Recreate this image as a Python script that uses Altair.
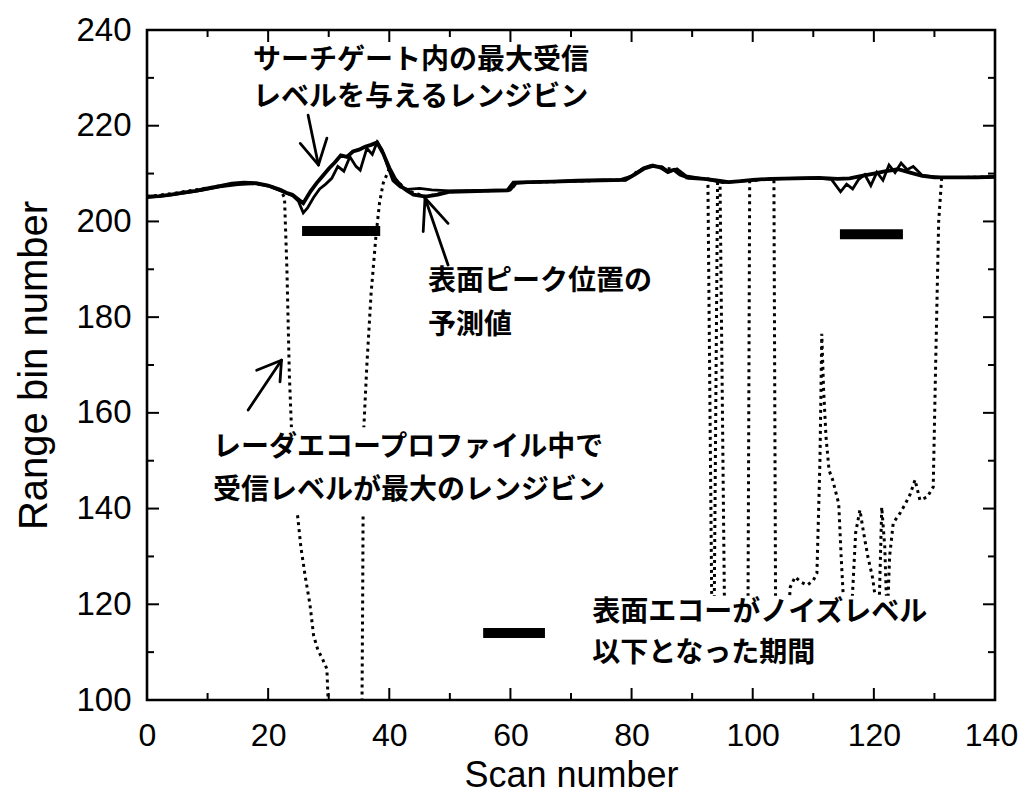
import altair as alt
import pandas as pd

# ---------------- data ----------------
# predicted surface peak position (thick solid line)
pred_scan = [0, 2, 4, 6, 8, 10, 12, 14, 16, 18,
             20, 22, 23, 24, 25, 25.8, 27, 28, 29, 30,
             31, 32, 33, 34, 35, 36, 37, 38, 39, 40,
             41, 42, 43, 44, 46, 48, 50, 53, 56, 59.5,
             60.5, 63, 67, 71, 75, 79, 80.5, 82, 83.5, 85,
             86, 87, 88, 89.5, 92, 94, 96, 98, 100, 103,
             107, 111, 114, 116, 118, 120, 122, 124, 126, 128,
             130, 134, 137, 140]
pred_bin = [205.2, 205.3, 205.6, 206.0, 206.4, 206.9, 207.4, 207.9, 208.1, 208.0,
            207.5, 206.6, 206.0, 205.6, 204.6, 203.8, 206.3, 208.0, 209.5, 211.0,
            212.3, 213.8, 213.5, 214.6, 215.0, 215.6, 216.0, 216.5, 214.2, 211.2,
            208.8, 207.3, 206.4, 205.6, 205.2, 205.6, 206.2, 206.3, 206.4, 206.5,
            208.1, 208.2, 208.3, 208.5, 208.6, 208.7, 209.8, 211.0, 211.6, 211.3,
            210.4, 210.8, 209.8, 209.1, 208.9, 208.6, 208.2, 208.4, 208.7, 208.9,
            209.0, 209.1, 208.9, 209.0, 209.5, 210.0, 210.5, 210.9, 210.2, 209.5,
            209.2, 209.2, 209.2, 209.3]

# range bin of max received level inside the search gate (jagged line)
gate_scan = [0, 3, 6, 9, 12, 15, 18, 20, 22, 24,
             25, 25.8, 26.5, 27.5, 28.5, 29.5, 30.5, 31.5, 32.5, 33.5,
             34.5, 35.2, 36.3, 37.2, 38, 38.8, 39.6, 40.6, 41.8, 43,
             45, 47, 50, 55, 60, 61, 66, 72, 78, 80,
             82, 83.5, 85, 86, 87.5, 89, 92, 95, 98, 102,
             106, 110, 113, 114.5, 115.5, 116.5, 117.5, 118.5, 119.5, 120.5,
             121.5, 122.5, 123.5, 124.5, 125.5, 126.5, 128, 131, 135, 140]
gate_bin = [205.0, 205.4, 205.9, 206.5, 207.2, 207.7, 207.9, 207.4, 206.4, 205.4,
            204.2, 201.8, 202.8, 205.0, 206.8, 207.8, 209.0, 211.5, 210.5, 213.5,
            211.5, 210.7, 215.3, 214.0, 216.6, 215.0, 212.0, 208.5, 207.2, 206.7,
            206.9, 206.6, 206.4, 206.5, 206.6, 208.0, 208.3, 208.5, 208.7, 209.5,
            211.2, 211.8, 211.0, 210.2, 211.0, 209.5, 208.9, 208.1, 208.4, 208.8,
            209.0, 209.1, 208.8, 206.2, 207.8, 206.8, 208.8, 209.8, 207.5, 210.3,
            208.6, 211.8, 210.2, 212.2, 210.8, 211.5, 209.6, 209.2, 209.2, 209.3]

# range bin of max received level in the whole echo profile (dotted line)
prof_scan = [0, 4, 8, 12, 16, 20, 22, 22.7, 23.1, 23.5,
             24, 24.7, 25.4, 26.1, 26.9, 27.5, 28.2, 29, 29.7, 29.9,
             30.3, 35.3, 35.5, 35.6, 35.7, 35.8, 36.3, 37, 37.8, 38.4,
             39, 40, 41, 43, 46, 50, 55, 60, 61, 70,
             79, 81, 83, 85, 87, 89, 92.6, 93.3, 93.6, 94.2,
             94.6, 95.4, 96, 99.2, 99.5, 101, 103.5, 103.8, 104.5, 105.6,
             106.2, 107, 108, 109, 110, 110.6, 111.1, 111.4, 111.7, 112.1,
             112.6, 113.2, 113.8, 114.2, 114.6, 115.1, 116.3, 117, 117.7, 118.3,
             119, 119.8, 120.8, 121.3, 121.8, 122.2, 122.6, 123.2, 124.3, 125.2,
             126, 126.8, 127.6, 128.8, 129.8, 130.2, 130.7, 131.2, 135, 140]
prof_bin = [205.2, 205.8, 206.6, 207.4, 208.1, 207.5, 206.6, 205.0, 190.0, 168.0,
            152.0, 140.5, 132.0, 126.0, 120.0, 113.5, 110.5, 108.5, 106.5, 100.0,
            92.0, 92.0, 100.0, 120.0, 145.0, 157.0, 170.0, 185.0, 197.0, 204.0,
            208.0, 211.0, 208.8, 206.4, 205.2, 206.2, 206.4, 206.5, 208.1, 208.4,
            208.7, 210.5, 211.6, 211.3, 210.8, 209.1, 208.9, 112.0, 112.0, 208.7,
            208.5, 112.0, 112.0, 112.0, 208.4, 208.7, 208.9, 112.0, 110.0, 112.0,
            123.6, 125.7, 124.6, 124.0, 125.0, 126.5, 150.0, 176.5, 165.0, 155.0,
            148.0, 146.0, 143.0, 141.0, 130.0, 118.0, 118.0, 135.0, 139.7, 135.0,
            130.0, 125.5, 116.0, 140.3, 132.0, 116.0, 130.0, 137.0, 139.0, 141.0,
            143.0, 146.0, 141.8, 142.4, 144.5, 170.0, 200.0, 209.2, 209.2, 209.3]

# periods when the surface echo fell below the noise level (+ legend sample)
noise_start = [25.6, 114.4, 55.5]
noise_end = [38.5, 124.8, 65.7]
noise_bin = [198.0, 197.3, 114.0]

# annotation texts
note_text = ["サーチゲート内の最大受信", "レベルを与えるレンジビン",
             "表面ピーク位置の", "予測値",
             "レーダエコープロファイル中で", "受信レベルが最大のレンジビン",
             "表面エコーがノイズレベル", "以下となった期間"]
note_scan = [17.5, 17.5, 46.4, 46.4, 10.9, 10.9, 73.5, 73.5]
note_bin = [233.5, 225.7, 187.4, 178.1, 152.7, 143.7, 118.2, 109.6]

# white label backgrounds (they hide the lines behind two labels)
box_x1 = [10.5, 72.5]
box_x2 = [76.5, 131.0]
box_y1 = [139.0, 100.8]
box_y2 = [157.0, 121.8]

# arrows (shaft + two head strokes each)
arrow_x1 = [26.6, 25.3, 29.7, 49.7, 45.6, 49.7, 16.7, 18.1, 21.96]
arrow_y1 = [222.2, 216.3, 217.4, 190.9, 197.9, 199.6, 160.6, 168.9, 166.5]
arrow_x2 = [28.3, 28.3, 28.3, 45.9, 45.9, 45.9, 22.2, 22.2, 22.2]
arrow_y2 = [211.8, 211.8, 211.8, 204.9, 204.9, 204.9, 171.0, 171.0, 171.0]

x_major = [0, 20, 40, 60, 80, 100, 120, 140]
x_minor = [10, 30, 50, 70, 90, 110, 130]
y_major = [100, 120, 140, 160, 180, 200, 220, 240]
y_minor = [110, 130, 150, 170, 190, 210, 230]

# ---------------- chart ----------------
W, H = 848, 670
LAT = "Liberation Sans"
JP = "Noto Sans CJK JP"
xs = alt.Scale(domain=[0, 140], nice=False, zero=False)
ys = alt.Scale(domain=[100, 240], nice=False, zero=False)

pred_df = pd.DataFrame({"scan": pred_scan, "bin": pred_bin, "i": range(len(pred_scan))})
gate_df = pd.DataFrame({"scan": gate_scan, "bin": gate_bin, "i": range(len(gate_scan))})
prof_df = pd.DataFrame({"scan": prof_scan, "bin": prof_bin, "i": range(len(prof_scan))})
noise_df = pd.DataFrame({"s": noise_start, "e": noise_end, "bin": noise_bin})
note_df = pd.DataFrame({"t": note_text, "scan": note_scan, "bin": note_bin})
box_df = pd.DataFrame({"x1": box_x1, "x2": box_x2, "y1": box_y1, "y2": box_y2})
arrow_df = pd.DataFrame({"x1": arrow_x1, "x2": arrow_x2, "y1": arrow_y1, "y2": arrow_y2})

xaxis = alt.Axis(values=x_major, title="Scan number", labelFont=LAT, labelFontSize=32,
                 labelColor="black", labelPadding=20, ticks=False, tickSize=0, domain=False,
                 grid=False, labelFlush=False,
                 labelOffset={"condition": {"test": "datum.value === 140", "value": -4}, "value": 0},
                 titleFont=LAT, titleFontSize=36,
                 titleFontWeight="normal", titleColor="black", titlePadding=7)
yaxis = alt.Axis(values=y_major, title="Range bin number", labelFont=LAT, labelFontSize=33,
                 labelColor="black", labelPadding=16, ticks=False, tickSize=0, domain=False,
                 grid=False, labelFlush=False, titleFont=LAT, titleFontSize=40,
                 titleFontWeight="normal", titleColor="black", titlePadding=21)


def X(field):
    return alt.X(field, type="quantitative", scale=xs, axis=xaxis)


def Y(field):
    return alt.Y(field, type="quantitative", scale=ys, axis=yaxis)


prof = alt.Chart(prof_df).mark_line(color="black", strokeWidth=3, strokeDash=[3, 4],
                                    clip=True).encode(x=X("scan"), y=Y("bin"), order="i:Q")

gate = alt.Chart(gate_df).mark_line(color="black", strokeWidth=2.8).encode(
    x=X("scan"), y=Y("bin"), order="i:Q")

pred = alt.Chart(pred_df).mark_line(color="black", strokeWidth=3.8).encode(
    x=X("scan"), y=Y("bin"), order="i:Q")

noise = alt.Chart(noise_df).mark_rule(color="black", strokeWidth=10, strokeCap="butt").encode(
    x=X("s"), x2="e:Q", y=Y("bin"))

boxes = alt.Chart(box_df).mark_rect(color="white").encode(
    x=X("x1"), x2="x2:Q", y=Y("y1"), y2="y2:Q")

notes = alt.Chart(note_df).mark_text(align="left", baseline="middle", font=JP, fontSize=28,
                                     fontWeight="bold", color="black").encode(
    x=X("scan"), y=Y("bin"), text="t:N")

arrows = alt.Chart(arrow_df).mark_rule(color="black", strokeWidth=2.8, strokeCap="round").encode(
    x=X("x1"), x2="x2:Q", y=Y("y1"), y2="y2:Q")


def yticks(vals, x0, x1):
    return alt.Chart(pd.DataFrame({"v": vals})).mark_rule(color="black", strokeWidth=2).encode(
        y=Y("v"), x=alt.value(x0), x2=alt.value(x1))


def xticks(vals, y0, y1):
    return alt.Chart(pd.DataFrame({"v": vals})).mark_rule(color="black", strokeWidth=2).encode(
        x=X("v"), y=alt.value(y0), y2=alt.value(y1))


ticks = [
    yticks(y_major, 0, 12), yticks(y_minor, 0, 7),
    yticks(y_major, W - 12, W), yticks(y_minor, W - 7, W),
    xticks(x_major, H, H - 12), xticks(x_minor, H, H - 7),
    xticks(x_major, 0, 12), xticks(x_minor, 0, 7),
]

chart = alt.layer(prof, gate, pred, noise, boxes, notes, arrows, *ticks).properties(
    width=W, height=H,
    autosize=alt.AutoSizeParams(type="none"),
    padding={"left": 139, "top": 22, "right": 23, "bottom": 92},
    background="white",
).configure_view(stroke="black", strokeWidth=2.6)

chart.save("out.html", embed_options={"renderer": "svg", "actions": False})
